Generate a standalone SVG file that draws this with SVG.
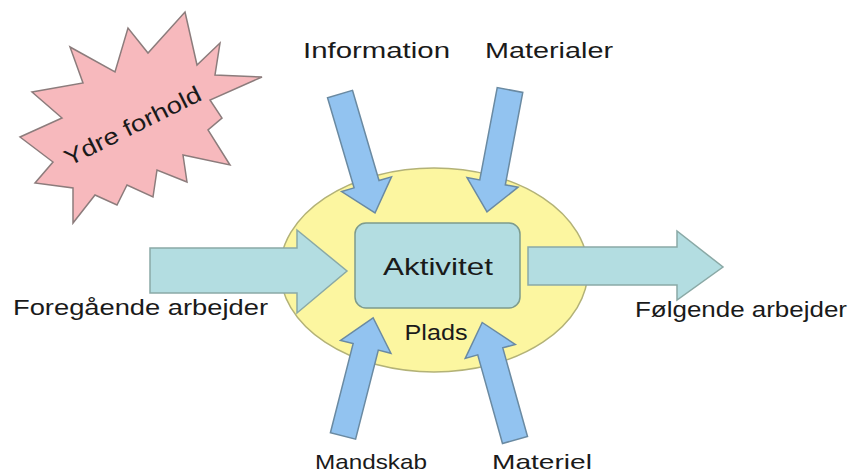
<svg xmlns="http://www.w3.org/2000/svg" width="854" height="476" viewBox="0 0 854 476">
<style>
.t{font-family:"Liberation Sans","DejaVu Sans",sans-serif;fill:#1a1a1a}
.blue{fill:#92c3f0;stroke:#6a8aa2;stroke-width:1.5;stroke-linejoin:miter}
.teal{fill:#b3dde1;stroke:#8aa9a6;stroke-width:1.5}
</style>
<rect width="854" height="476" fill="#ffffff"/>
<g id="ydre-forhold">
<polygon points="185,12 197,65 220,43 215,75 262,77 210,100 222,118 208,130 230,165 183,155 187,182 157,170 153,197 127,185 117,205 95,195 73,223 73,188 35,183 53,162 20,137 62,118 32,92 83,83 70,47 115,72 128,28 148,53" fill="#f7b9bd" stroke="#8c7c7c" stroke-width="1.5"/>
<text class="t" x="136" y="133" font-size="23" text-anchor="middle" textLength="150" lengthAdjust="spacingAndGlyphs" transform="rotate(-26.5 136 133)">Ydre forhold</text>
</g>
<g id="plads">
<ellipse cx="434" cy="270" rx="154" ry="102" fill="#fcf6a0" stroke="#b3b277" stroke-width="1.5"/>
<text class="t" x="436" y="340" font-size="22" text-anchor="middle" textLength="63" lengthAdjust="spacingAndGlyphs">Plads</text>
</g>
<g id="aktivitet">
<rect x="355" y="223" width="165" height="85" rx="11" fill="#b3dde1" stroke="#7e9b8c" stroke-width="1.5"/>
<text class="t" x="438" y="275" font-size="24" text-anchor="middle" textLength="110" lengthAdjust="spacingAndGlyphs">Aktivitet</text>
</g>
<g id="connectors">
<polygon class="teal" points="150,248 297,248 297,230 347,271 297,313 297,293 150,293"/>
<polygon class="teal" points="528,247 677,247 677,231 723,267 677,300 677,285 528,285"/>
<g transform="translate(340,94) rotate(73.6)"><polygon class="blue" points="0,-13 94,-13 94,-26 124,0 94,26 94,13 0,13"/></g>
<g transform="translate(510,90) rotate(100.7)"><polygon class="blue" points="0,-13 94,-13 94,-26 124,0 94,26 94,13 0,13"/></g>
<g transform="translate(343,436) rotate(-75.7)"><polygon class="blue" points="0,-13 92,-13 92,-26 122,0 92,26 92,13 0,13"/></g>
<g transform="translate(515,440) rotate(-105.6)"><polygon class="blue" points="0,-13 92,-13 92,-26 122,0 92,26 92,13 0,13"/></g>
</g>
<g id="labels">
<text class="t" x="303" y="58" font-size="22" textLength="147" lengthAdjust="spacingAndGlyphs">Information</text>
<text class="t" x="485" y="58" font-size="22" textLength="128" lengthAdjust="spacingAndGlyphs">Materialer</text>
<text class="t" x="13" y="315" font-size="22" textLength="255" lengthAdjust="spacingAndGlyphs">Foregående arbejder</text>
<text class="t" x="635" y="317" font-size="22" textLength="212" lengthAdjust="spacingAndGlyphs">Følgende arbejder</text>
<text class="t" x="315" y="469" font-size="21" textLength="112" lengthAdjust="spacingAndGlyphs">Mandskab</text>
<text class="t" x="492" y="469" font-size="21" textLength="100" lengthAdjust="spacingAndGlyphs">Materiel</text>
</g>
</svg>
